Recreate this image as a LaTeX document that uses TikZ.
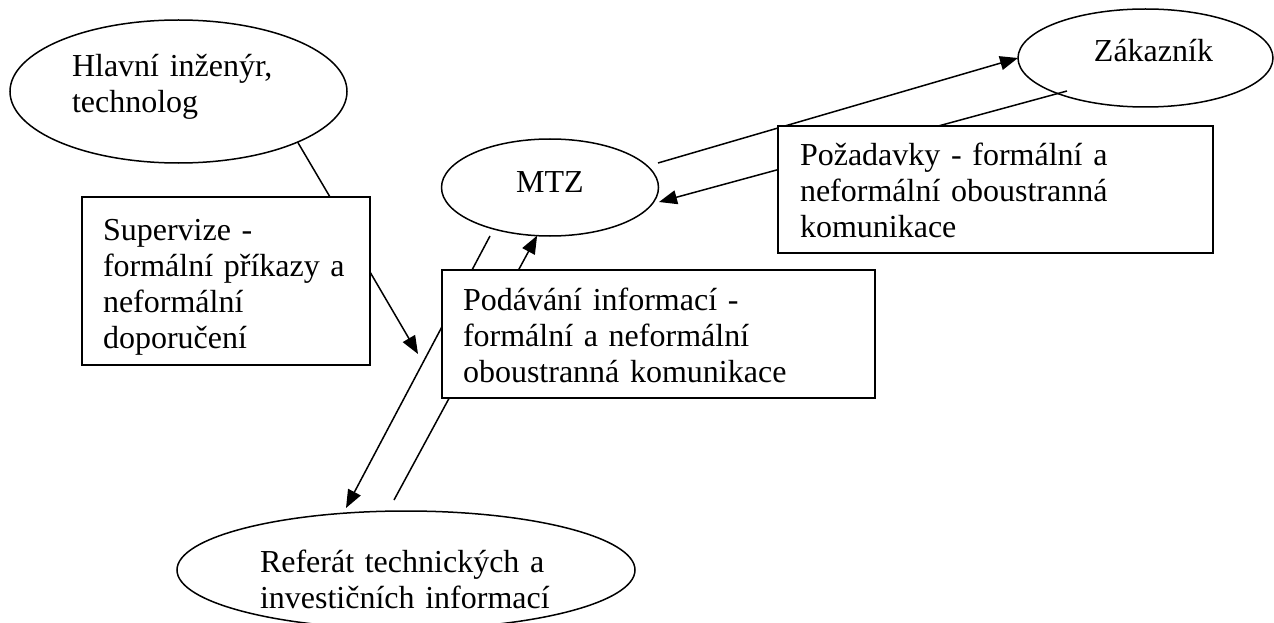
\documentclass[tikz,border=0pt]{standalone}
\usepackage{fontspec}
\setmainfont{Liberation Serif}
\usetikzlibrary{shapes.geometric,arrows.meta}
\pgfdeclarelayer{bg}
\pgfsetlayers{bg,main}
\begin{document}
\begin{tikzpicture}[x=1pt,y=-1pt,
  lbl/.style={font=\fontsize{32}{36}\selectfont},
  oval/.style={ellipse,draw,line width=1.5pt,inner sep=0pt,outer sep=0pt,lbl},
  textbox/.style={rectangle,draw,fill=white,line width=1.5pt,anchor=north west,align=left,inner ysep=0pt,outer sep=0pt,lbl},
  link/.style={line width=1.5pt},
  arr/.style={link,-{Triangle[length=18pt,width=14pt]}}]
\fontsize{32}{36}\selectfont
\useasboundingbox (0,0) rectangle (1274,623);
\clip (0,0) rectangle (1274,623);

% ellipses
\node[oval,minimum width=337pt,minimum height=143pt,text width=213pt,align=left,text height=22pt,text depth=51pt] (hl) at (178.5,91.5) {Hlavní inženýr,\\technolog};
\node[oval,minimum width=217pt,minimum height=97pt,text height=22pt,text depth=13pt] (mtz) at (550,187.5) {MTZ};
\node[oval,minimum width=255pt,minimum height=98pt,text width=135pt,align=right,text height=22pt,text depth=14pt] (zak) at (1145.5,58) {Zákazník};
\node[oval,minimum width=458pt,minimum height=118pt,text width=292pt,align=left,text height=22pt,text depth=18pt] (ref) at (406,570) {Referát technických a\\investičních informací};

% boxes
\node[textbox,minimum width=288pt,minimum height=168pt,inner xsep=21pt,text width=246pt,text height=22pt,text depth=104pt] (sup) at (82,197) {Supervize -\\formální příkazy a\\neformální\\doporučení};
\node[textbox,minimum width=433pt,minimum height=128pt,inner xsep=21pt,text width=391pt,text height=22pt,text depth=70pt] (pod) at (442,270) {Podávání informací -\\formální a neformální\\oboustranná komunikace};
\node[textbox,minimum width=435pt,minimum height=127pt,inner xsep=22pt,text width=391pt,text height=22pt,text depth=71pt] (poz) at (778,126) {Požadavky - formální a\\neformální oboustranná\\komunikace};

% free connector ends
\coordinate (s1) at (330,197);
\coordinate (a2) at (418,354);
\coordinate (m3) at (490,236);
\coordinate (r3) at (346,508);
\coordinate (r4) at (394,500);
\coordinate (m5) at (658,163);
\coordinate (z6) at (1067,91);
\coordinate (m6) at (659,202);

\begin{pgfonlayer}{bg}
\draw[link] (hl.-23.3) -- (s1);
\draw[arr] ([yshift=9pt]sup.east) -- (a2);
\draw[arr] (m3) -- (r3);
\draw[arr] (r4) -- (mtz.-105);
\draw[arr] (m5) -- (zak.west);
\draw[arr] (z6) -- (m6);
\end{pgfonlayer}
\end{tikzpicture}
\end{document}
